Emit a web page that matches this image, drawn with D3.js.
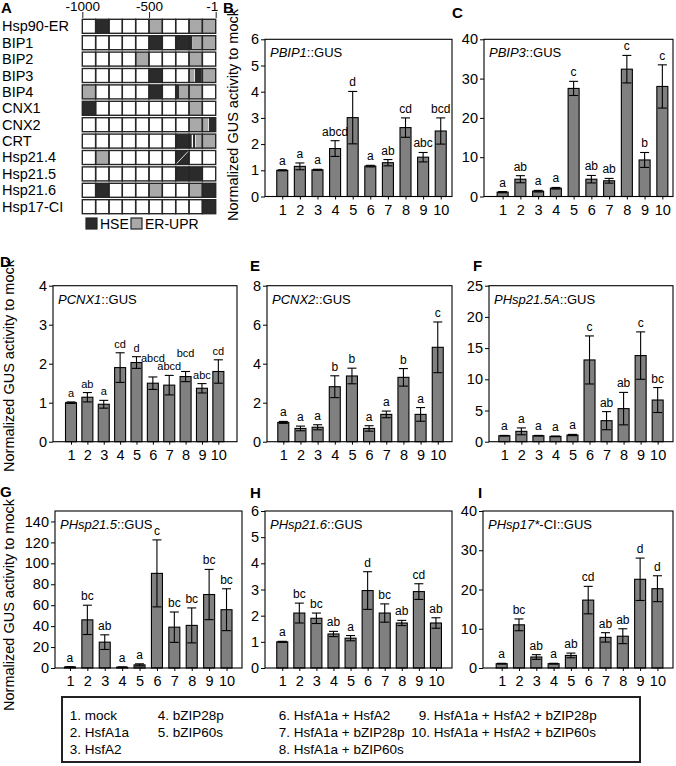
<!DOCTYPE html>
<html>
<head>
<meta charset="utf-8">
<script src="https://cdn.jsdelivr.net/npm/d3@7"></script>
<style>
body { margin: 0; background: #fff; }
svg { font-family: "Liberation Sans", Arial, sans-serif; }
</style>
</head>
<body>
<svg id="fig" width="676" height="766"></svg>
<script>
// Panel A - promoter elements (positions in cells of 100 bp, 0 = -1000, 10 = -1)
const promoters = ['Hsp90-ER', 'BIP1', 'BIP2', 'BIP3', 'BIP4', 'CNX1', 'CNX2', 'CRT', 'Hsp21.4', 'Hsp21.5', 'Hsp21.6', 'Hsp17-CI']
const hseSites = [
    [[1, 2]],
    [[5, 6], [7, 8.25]],
    [],
    [[5, 6], [8.45, 8.95]],
    [[5, 6], [7, 7.25]],
    [[0, 1]],
    [[9.5, 10]],
    [[7, 8.2], [8.3, 8.45]],
    [[7, 8]],
    [[7, 9]],
    [[1, 2], [9, 10]],
    [[9, 10]]
]
const uprSites = [
    [[5, 6], [8, 10]],
    [[8.3, 10]],
    [[4, 5], [8, 9]],
    [[8, 8.4], [9, 10]],
    [[0, 1], [7.25, 9]],
    [[8, 9]],
    [[8, 9.45]],
    [[8.5, 10]],
    [[1, 2]],
    [],
    [[5, 6], [8, 9]],
    []
]
const overlapCells = [[8, 7]] // [row, cell] with crossed site
const promoterTicks = [-1000, -500, -1]

// Panels B-I - GUS activity
const conditions = ['1', '2', '3', '4', '5', '6', '7', '8', '9', '10']

const pbip1Mean = [1.0, 1.15, 1.02, 1.83, 3.01, 1.16, 1.29, 2.63, 1.5, 2.5]
const pbip1Err = [0.02, 0.13, 0.02, 0.3, 1.0, 0.03, 0.12, 0.37, 0.18, 0.5]
const pbip1Sig = ['a', 'a', 'a', 'abcd', 'd', 'a', 'ab', 'cd', 'abc', 'bcd']

const pbip3Mean = [1.1, 4.4, 1.35, 2.1, 27.5, 4.4, 4.0, 32.4, 9.3, 28.0]
const pbip3Err = [0.15, 0.9, 0.2, 0.2, 1.8, 0.95, 0.6, 3.5, 1.9, 5.5]
const pbip3Sig = ['a', 'ab', 'a', 'a', 'c', 'ab', 'ab', 'c', 'b', 'c']

const pcnx1Mean = [1.0, 1.14, 0.96, 1.9, 2.03, 1.5, 1.45, 1.67, 1.37, 1.8]
const pcnx1Err = [0.02, 0.12, 0.1, 0.38, 0.15, 0.16, 0.25, 0.13, 0.12, 0.3]
const pcnx1Sig = ['a', 'ab', 'a', 'cd', 'd', 'abcd', 'abcd', 'bcd', 'abc', 'cd']

const pcnx2Mean = [0.99, 0.68, 0.74, 2.82, 3.37, 0.68, 1.4, 3.3, 1.4, 4.84]
const pcnx2Err = [0.05, 0.12, 0.13, 0.56, 0.4, 0.14, 0.17, 0.45, 0.35, 1.3]
const pcnx2Sig = ['a', 'a', 'a', 'b', 'b', 'a', 'a', 'b', 'a', 'c']

const phsp215aMean = [0.96, 1.66, 0.96, 0.85, 1.07, 13.1, 3.37, 5.3, 13.8, 6.68]
const phsp215aErr = [0.05, 0.55, 0.05, 0.05, 0.1, 3.85, 1.45, 2.6, 3.8, 2.0]
const phsp215aSig = ['a', 'a', 'a', 'a', 'a', 'c', 'ab', 'ab', 'c', 'bc']

const phsp215Mean = [1.0, 46, 24.7, 0.8, 3.0, 90.4, 39, 40.7, 70.2, 55.7]
const phsp215Err = [0.2, 14, 7, 0.2, 1, 32, 14.5, 16.7, 24, 20]
const phsp215Sig = ['a', 'bc', 'ab', 'a', 'a', 'c', 'bc', 'bc', 'bc', 'bc']

const phsp216Mean = [1.0, 2.1, 1.9, 1.3, 1.14, 2.96, 2.1, 1.72, 2.92, 1.72]
const phsp216Err = [0.02, 0.38, 0.2, 0.1, 0.1, 0.72, 0.35, 0.1, 0.3, 0.2]
const phsp216Sig = ['a', 'bc', 'bc', 'ab', 'a', 'd', 'bc', 'ab', 'cd', 'ab']

const phsp17Mean = [1.1, 11.0, 2.8, 1.1, 3.2, 17.3, 7.8, 8.1, 22.6, 20.2]
const phsp17Err = [0.1, 1.5, 0.6, 0.1, 0.6, 3.5, 1.2, 1.9, 5.4, 3.3]
const phsp17Sig = ['a', 'bc', 'ab', 'a', 'ab', 'cd', 'ab', 'ab', 'd', 'd']

const ticks6 = [0, 1, 2, 3, 4, 5, 6]
const ticks40 = [0, 10, 20, 30, 40]
const ticks4 = [0, 1, 2, 3, 4]
const ticks8 = [0, 2, 4, 6, 8]
const ticks25 = [0, 5, 10, 15, 20, 25]
const ticks140 = [0, 20, 40, 60, 80, 100, 120, 140]

const legendCols = [
    ['1. mock', '2. HsfA1a', '3. HsfA2'],
    ['4. bZIP28p', '5. bZIP60s'],
    ['6. HsfA1a + HsfA2', '7. HsfA1a + bZIP28p', '8. HsfA1a + bZIP60s'],
    ['9. HsfA1a + HsfA2 + bZIP28p', '10. HsfA1a + HsfA2 + bZIP60s']
]

const yTitle = 'Normalized GUS activity to mock'

const svg = d3.select('#fig')

// Panel letter helper
function panelLetter(letter, x, y) {
    svg.append('text')
        .attr('x', x).attr('y', y)
        .attr('font-size', 15).attr('font-weight', 'bold')
        .text(letter)
}

// ---------- Panel A ----------
function drawPromoters() {
    const gx = d3.scaleLinear().domain([0, 10]).range([82.3, 215.7])
    const gy = d3.scaleBand().domain(d3.range(promoters.length)).range([19.3, 213.7]).paddingInner(0.146)
    const pos = d3.scaleLinear().domain([-1000, -1]).range([82.3, 215.7])

    panelLetter('A', 1, 13)

    // top axis
    const top = svg.append('g')
        .attr('transform', 'translate(0,18)')
        .call(d3.axisTop(pos).tickValues(promoterTicks).tickSize(6).tickPadding(1).tickFormat(d => String(d)))
    top.select('.domain').remove()
    top.selectAll('text').attr('font-size', 13.5).attr('fill', '#000').attr('font-family', null)
    top.selectAll('line').attr('stroke', '#222')
    top.selectAll('.tick:last-child text').attr('text-anchor', 'end').attr('dx', 2)

    // row labels
    svg.append('g').selectAll('text')
        .data(promoters)
        .join('text')
        .attr('x', 2)
        .attr('y', (d, i) => gy(i) + gy.bandwidth() / 2 + 5)
        .attr('font-size', 14.5)
        .text(d => d)

    const rows = svg.append('g').selectAll('g')
        .data(promoters.map((p, i) => i))
        .join('g')
        .attr('transform', i => `translate(0,${gy(i)})`)

    // white cells
    rows.selectAll('.cell')
        .data(d3.range(10))
        .join('rect')
        .attr('class', 'cell')
        .attr('x', c => gx(c)).attr('width', gx(1) - gx(0))
        .attr('y', 0).attr('height', gy.bandwidth())
        .attr('fill', '#fff')

    // sites
    rows.selectAll('.upr')
        .data(i => uprSites[i])
        .join('rect')
        .attr('class', 'upr')
        .attr('x', d => gx(d[0])).attr('width', d => gx(d[1]) - gx(d[0]))
        .attr('y', 0).attr('height', gy.bandwidth())
        .attr('fill', '#a9a9a9')

    rows.selectAll('.hse')
        .data(i => hseSites[i])
        .join('rect')
        .attr('class', 'hse')
        .attr('x', d => gx(d[0])).attr('width', d => gx(d[1]) - gx(d[0]))
        .attr('y', 0).attr('height', gy.bandwidth())
        .attr('fill', '#2b2b2b')

    // cell borders on top
    rows.selectAll('.border')
        .data(d3.range(10))
        .join('rect')
        .attr('class', 'border')
        .attr('x', c => gx(c)).attr('width', gx(1) - gx(0))
        .attr('y', 0).attr('height', gy.bandwidth())
        .attr('fill', 'none')
        .attr('stroke', '#262626')
        .attr('stroke-width', 1.4)

    // crossed site
    svg.append('g').selectAll('line')
        .data(overlapCells)
        .join('line')
        .attr('x1', d => gx(d[1]) + 1).attr('x2', d => gx(d[1] + 1) - 1)
        .attr('y1', d => gy(d[0]) + gy.bandwidth() - 1).attr('y2', d => gy(d[0]) + 1)
        .attr('stroke', '#ddd').attr('stroke-width', 1)

    // legend
    const leg = [['HSE', '#2b2b2b', 86], ['ER-UPR', '#a9a9a9', 131]]
    const lg = svg.append('g').selectAll('g').data(leg).join('g')
    lg.append('rect')
        .attr('x', d => d[2]).attr('y', 218).attr('width', 11).attr('height', 11)
        .attr('fill', d => d[1]).attr('stroke', '#262626').attr('stroke-width', 1.2)
    lg.append('text')
        .attr('x', d => d[2] + 14).attr('y', 229)
        .attr('font-size', 14)
        .text(d => d[0])
} // End promoters

// ---------- Bar panels ----------
const panels = [
    { letter: 'B', lx: 223, ly: 13, left: 265, right: 452, top: 39.3, bottom: 196.5, xLo: 0.02, xHi: 10.64, yMax: 6, ticks: ticks6,
      name: 'PBIP1', rest: '::GUS', mean: pbip1Mean, err: pbip1Err, sig: pbip1Sig, title: [233, 115] },
    { letter: 'C', lx: 452, ly: 18, left: 484, right: 673, top: 39.3, bottom: 196.5, xLo: -0.05, xHi: 10.6, yMax: 40, ticks: ticks40,
      name: 'PBIP3', rest: '::GUS', mean: pbip3Mean, err: pbip3Err, sig: pbip3Sig },
    { letter: 'D', lx: 0, ly: 267, left: 53, right: 237, top: 285.7, bottom: 441.7, xLo: -0.1, xHi: 11.14, yMax: 4, ticks: ticks4,
      name: 'PCNX1', rest: '::GUS', mean: pcnx1Mean, err: pcnx1Err, sig: pcnx1Sig, title: [9, 366],
      sigSize: 11, sigLift: [0, 0, 0, 0, 0, 10, 0, 10, 0, 0] },
    { letter: 'E', lx: 250, ly: 271, left: 267, right: 452, top: 285.7, bottom: 441.7, xLo: 0.05, xHi: 10.83, yMax: 8, ticks: ticks8,
      name: 'PCNX2', rest: '::GUS', mean: pcnx2Mean, err: pcnx2Err, sig: pcnx2Sig },
    { letter: 'F', lx: 473, ly: 271, left: 489, right: 673, top: 285.7, bottom: 441.7, xLo: 0.1, xHi: 10.9, yMax: 25, ticks: ticks25,
      name: 'PHsp21.5A', rest: '::GUS', mean: phsp215aMean, err: phsp215aErr, sig: phsp215aSig },
    { letter: 'G', lx: 0, ly: 497, left: 55, right: 242, top: 511, bottom: 668, xLo: 0.14, xHi: 10.89, yMax: 150, ticks: ticks140,
      name: 'PHsp21.5', rest: '::GUS', mean: phsp215Mean, err: phsp215Err, sig: phsp215Sig, title: [9, 605] },
    { letter: 'H', lx: 250, ly: 498, left: 265, right: 452, top: 511, bottom: 668, xLo: -0.01, xHi: 10.94, yMax: 6, ticks: ticks6,
      name: 'PHsp21.6', rest: '::GUS', mean: phsp216Mean, err: phsp216Err, sig: phsp216Sig },
    { letter: 'I', lx: 478, ly: 498, left: 483, right: 673, top: 511, bottom: 668, xLo: -0.08, xHi: 10.9, yMax: 40, ticks: ticks40,
      name: 'PHsp17*', rest: '-CI::GUS', mean: phsp17Mean, err: phsp17Err, sig: phsp17Sig }
]

function drawPanel(p) {
    const x = d3.scaleLinear().domain([p.xLo, p.xHi]).range([p.left, p.right])
    const y = d3.scaleLinear().domain([0, p.yMax]).range([p.bottom, p.top])
    const g = svg.append('g')
    const lift = p.sigLift || conditions.map(() => 0)
    const rows = conditions.map((c, i) => ({ c: c, pos: i + 1, m: p.mean[i], e: p.err[i], s: p.sig[i], lift: lift[i] }))

    panelLetter(p.letter, p.lx, p.ly)

    // y axis
    const ya = g.append('g')
        .attr('transform', `translate(${p.left},0)`)
        .call(d3.axisLeft(y).tickValues(p.ticks).tickSize(4).tickPadding(2).tickFormat(d3.format('d')))
    ya.select('.domain').remove()
    ya.selectAll('text').attr('font-size', 14.5).attr('fill', '#000').attr('font-family', null)

    // x axis
    const xa = g.append('g')
        .attr('transform', `translate(0,${p.bottom})`)
        .call(d3.axisBottom(x).tickValues(rows.map(d => d.pos)).tickSize(3).tickPadding(5)
            .tickFormat((d, i) => conditions[i]))
    xa.select('.domain').remove()
    xa.selectAll('text').attr('font-size', 14.5).attr('fill', '#000').attr('font-family', null)

    // bars
    g.append('g').selectAll('rect')
        .data(rows)
        .join('rect')
        .attr('x', d => x(d.pos) - 5.5)
        .attr('width', 11)
        .attr('y', d => y(d.m))
        .attr('height', d => y(0) - y(d.m))
        .attr('fill', '#808080')
        .attr('stroke', '#000')
        .attr('stroke-width', 1.1)

    // error bars
    const eb = g.append('g').attr('stroke', '#000').attr('stroke-width', 1.1)
    eb.selectAll('.v').data(rows).join('line').attr('class', 'v')
        .attr('x1', d => x(d.pos)).attr('x2', d => x(d.pos))
        .attr('y1', d => y(d.m + d.e)).attr('y2', d => y(Math.max(0, d.m - d.e)))
    eb.selectAll('.t').data(rows).join('line').attr('class', 't')
        .attr('x1', d => x(d.pos) - 4.5).attr('x2', d => x(d.pos) + 4.5)
        .attr('y1', d => y(d.m + d.e)).attr('y2', d => y(d.m + d.e))
    eb.selectAll('.b').data(rows).join('line').attr('class', 'b')
        .attr('x1', d => x(d.pos) - 4.5).attr('x2', d => x(d.pos) + 4.5)
        .attr('y1', d => y(Math.max(0, d.m - d.e))).attr('y2', d => y(Math.max(0, d.m - d.e)))

    // significance letters
    g.append('g').selectAll('text')
        .data(rows)
        .join('text')
        .attr('x', d => x(d.pos))
        .attr('y', d => y(d.m + d.e) - 5 - d.lift)
        .attr('text-anchor', 'middle')
        .attr('font-size', p.sigSize || 12)
        .text(d => d.s)

    // frame
    g.append('rect')
        .attr('x', p.left).attr('y', p.top)
        .attr('width', p.right - p.left).attr('height', p.bottom - p.top)
        .attr('fill', 'none').attr('stroke', '#000').attr('stroke-width', 1.1)

    // construct name
    const t = g.append('text')
        .attr('x', p.left + 5).attr('y', p.top + 18)
        .attr('font-size', 13)
    t.append('tspan').attr('font-style', 'italic').text(p.name)
    t.append('tspan').text(p.rest)

    // y title
    if (p.title) {
        g.append('text')
            .attr('transform', `translate(${p.title[0]},${p.title[1]}) rotate(-90)`)
            .attr('text-anchor', 'middle')
            .attr('dy', '0.35em')
            .attr('font-size', 14.5)
            .text(yTitle)
    }
} // End draw panel

// ---------- Condition legend ----------
function drawLegend() {
    svg.append('rect')
        .attr('x', 62).attr('y', 697).attr('width', 578).attr('height', 65)
        .attr('fill', 'none').attr('stroke', '#222').attr('stroke-width', 2)

    const colX = [81, 169, 290, 430]
    const lineY = d3.scaleLinear().domain([0, 1]).range([720, 737])

    legendCols.forEach((col, ci) => {
        const items = svg.append('g').selectAll('g')
            .data(col)
            .join('g')
            .attr('font-size', 13.5)
        items.append('text')
            .attr('x', colX[ci]).attr('y', (d, i) => lineY(i))
            .attr('text-anchor', 'end')
            .text(d => d.split(' ')[0])
        items.append('text')
            .attr('x', colX[ci] + 3.8).attr('y', (d, i) => lineY(i))
            .text(d => d.split(' ').slice(1).join(' '))
    })
} // End legend

drawPromoters()
panels.forEach(drawPanel)
drawLegend()
</script>
</body>
</html>
